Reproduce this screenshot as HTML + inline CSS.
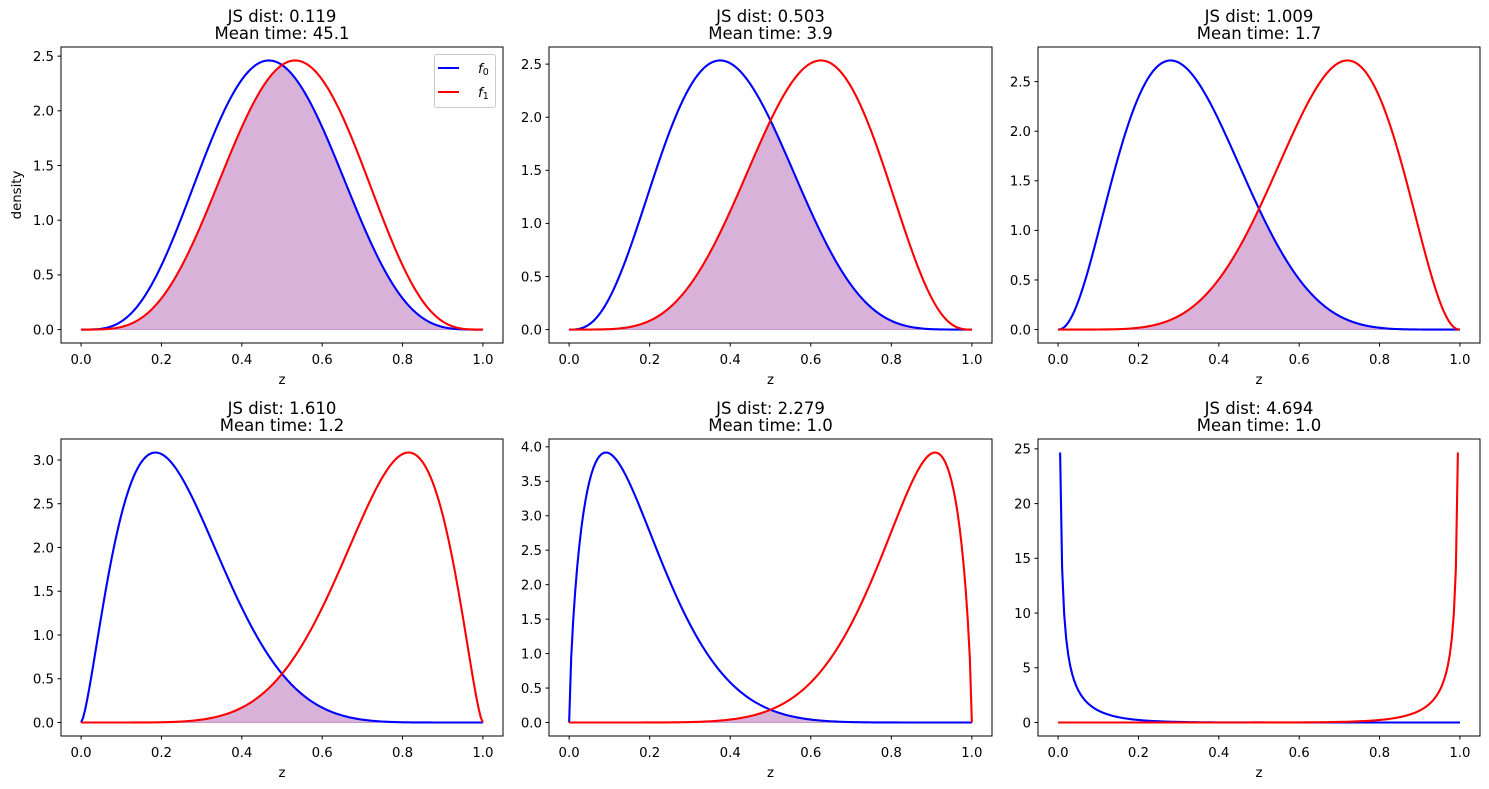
<!DOCTYPE html>
<html><head><meta charset="utf-8">
<style>
html,body{margin:0;padding:0;background:#fff;}
svg{display:block;font-family:"DejaVu Sans","Liberation Sans",sans-serif;}
</style></head>
<body>
<svg id="s" width="1489" height="789" xmlns="http://www.w3.org/2000/svg"></svg>
<script>
function lg(x){var g=7,c=[0.99999999999980993,676.5203681218851,-1259.1392167224028,771.32342877765313,-176.61502916214059,12.507343278686905,-0.13857109526572012,9.9843695780195716e-6,1.5056327351493116e-7];
if(x<0.5)return Math.log(Math.PI/Math.abs(Math.sin(Math.PI*x)))-lg(1-x);x-=1;var a=c[0],t=x+g+0.5;for(var i=1;i<9;i++)a+=c[i]/(x+i);
return 0.5*Math.log(2*Math.PI)+(x+0.5)*Math.log(t)-t+Math.log(a);}
function pdf(x,a,b){if(x<=0){return a>1?0:(a==1?Math.exp(-lB(a,b)):Infinity);}if(x>=1){return b>1?0:(b==1?Math.exp(-lB(a,b)):Infinity);}
return Math.exp((a-1)*Math.log(x)+(b-1)*Math.log(1-x)-lB(a,b));}
function lB(a,b){return lg(a)+lg(b)-lg(a+b);}
function fit(m,M,c){var best=1e9,ba=2,bb=2;for(var a=1.02;a<12;a+=0.02){for(var b=a;b<20;b+=0.04){var md=(a-1)/(a+b-2);var mx=pdf(md,a,b);
var e=Math.pow((md-m)/0.01,2)+Math.pow((mx-M)/0.03,2)+(c!=null?Math.pow((pdf(0.5,a,b)-c)/0.02,2):0);if(e<best){best=e;ba=a;bb=b;}}}return [ba,bb];}
function fit6(){var best=1e9,ba=.5,bb=2;for(var a=0.05;a<1;a+=0.005){for(var b=1;b<20;b+=0.05){
var e=Math.pow((pdf(0.005025,a,b)-24.5)/0.5,2)+Math.pow((pdf(0.1,a,b)-1.0)/0.1,2)+Math.pow((pdf(0.05,a,b)-3.2)/0.2,2);if(e<best){best=e;ba=a;bb=b;}}}return [ba,bb];}
var P=[
{t:"0.119",mt:"45.1",f:fit(0.467,2.46,null),ticks:[0,0.5,1,1.5,2,2.5],dec:1},
{t:"0.503",mt:"3.9",f:fit(0.375,2.535,null),ticks:[0,0.5,1,1.5,2,2.5],dec:1},
{t:"1.009",mt:"1.7",f:fit(0.28,2.71,1.22),ticks:[0,0.5,1,1.5,2,2.5],dec:1},
{t:"1.610",mt:"1.2",f:fit(0.18,3.09,0.56),ticks:[0,0.5,1,1.5,2,2.5,3],dec:1},
{t:"2.279",mt:"1.0",f:fit(0.093,3.92,0.19),ticks:[0,0.5,1,1.5,2,2.5,3,3.5,4],dec:1},
{t:"4.694",mt:"1.0",f:fit6(),ticks:[0,5,10,15,20,25],dec:0}];
var cols=[[61,503],[549,992],[1038,1480]],rows=[[47,343],[439,736]];
var h="";
P.forEach(function(p,i){var cx=cols[i%3],ry=rows[Math.floor(i/3)];var L=cx[0],R=cx[1],T=ry[0],B=ry[1];
var a=p.f[0],b=p.f[1],N=200,xs=[],f0=[],f1=[];for(var k=0;k<N;k++){var x=k/(N-1);xs.push(x);f0.push(pdf(x,a,b));f1.push(pdf(x,b,a));}
var M=0;for(k=0;k<N;k++){if(isFinite(f0[k]))M=Math.max(M,f0[k]);if(isFinite(f1[k]))M=Math.max(M,f1[k]);}
var y0=-0.05*M,y1=1.05*M;
function X(x){return L+(x+0.05)/1.1*(R-L);}function Y(y){return B-(y-y0)/(y1-y0)*(B-T);}
var fp="M"+X(0)+","+Y(0);for(k=0;k<N;k++){var v=Math.min(f0[k],f1[k]);if(!isFinite(v))v=0;fp+=" L"+X(xs[k]).toFixed(2)+","+Y(v).toFixed(2);}fp+=" L"+X(1)+","+Y(0)+"Z";
h+='<path d="'+fp+'" fill="#800080" fill-opacity="0.3" stroke="#800080" stroke-opacity="0.3" stroke-width="1"/>';
function line(arr,col){var d="",st=false;for(var k=0;k<N;k++){if(!isFinite(arr[k])){st=false;continue;}d+=(st?" L":"M")+X(xs[k]).toFixed(2)+","+Y(arr[k]).toFixed(2);st=true;}
return '<path d="'+d+'" fill="none" stroke="'+col+'" stroke-width="2.1" stroke-linejoin="round"/>';}
h+=line(f0,"#0000ff")+line(f1,"#ff0000");
h+='<rect x="'+L+'" y="'+T+'" width="'+(R-L)+'" height="'+(B-T)+'" fill="none" stroke="#000" stroke-width="1"/>';
[0,0.2,0.4,0.6,0.8,1].forEach(function(t){var x=X(t);h+='<line x1="'+x+'" y1="'+B+'" x2="'+x+'" y2="'+(B+3.5)+'" stroke="#000"/>';
h+='<text x="'+x+'" y="'+(B+21)+'" font-size="13.3" text-anchor="middle" fill="#000">'+t.toFixed(1)+'</text>';});
p.ticks.forEach(function(t){var y=Y(t);h+='<line x1="'+(L-3.5)+'" y1="'+y+'" x2="'+L+'" y2="'+y+'" stroke="#000"/>';
h+='<text x="'+(L-7)+'" y="'+(y+4.8)+'" font-size="13.3" text-anchor="end" fill="#000">'+t.toFixed(p.dec)+'</text>';});
var mx=(L+R)/2;
h+='<text x="'+mx+'" y="'+(B+41)+'" font-size="13.3" text-anchor="middle">z</text>';
h+='<text x="'+mx+'" y="'+(T-25)+'" font-size="16.5" text-anchor="middle">JS dist: '+p.t+'</text>';
h+='<text x="'+mx+'" y="'+(T-8)+'" font-size="16.5" text-anchor="middle">Mean time: '+p.mt+'</text>';
});
h+='<text transform="translate(21,195) rotate(-90)" font-size="13.3" text-anchor="middle">density</text>';
h+='<rect x="434.5" y="54.5" width="61" height="53" rx="2" fill="#fff" fill-opacity="0.8" stroke="#ccc"/>';
h+='<line x1="438" y1="68" x2="459" y2="68" stroke="#0000ff" stroke-width="2.1"/><line x1="438" y1="92" x2="459" y2="92" stroke="#ff0000" stroke-width="2.1"/>';
h+='<text x="478" y="73" font-size="13.3" font-style="italic">f<tspan font-size="9.5" font-style="normal" dy="2">0</tspan></text>';
h+='<text x="478" y="97" font-size="13.3" font-style="italic">f<tspan font-size="9.5" font-style="normal" dy="2">1</tspan></text>';
document.getElementById("s").innerHTML=h;
</script>
</body></html>
